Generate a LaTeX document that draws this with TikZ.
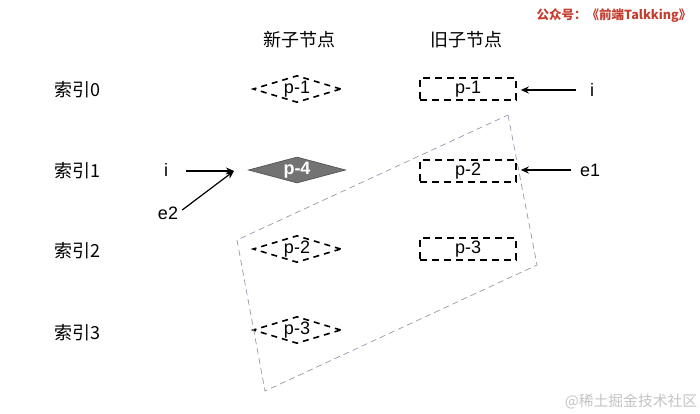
\documentclass[tikz,border=0pt]{standalone}
\usepackage{fontspec}
\setmainfont{Liberation Sans}
\newfontfamily\cjk{Noto Sans CJK SC}
\usetikzlibrary{shapes.geometric,arrows.meta,calc}
\definecolor{wmred}{RGB}{196,62,48}
\definecolor{wmgray}{RGB}{195,195,195}
\definecolor{boxline}{RGB}{150,150,172}
\tikzset{
  x=1pt,y=-1pt,
  lbl/.style={font=\fontsize{18}{18}\selectfont, inner sep=0pt},
  cjklbl/.style={font=\cjk\fontsize{18}{18}\selectfont, inner sep=0pt},
  newnode/.style={diamond, draw=black, line width=1.6pt, dash pattern=on 6pt off 5pt,
     minimum width=88pt, minimum height=27pt, inner sep=0pt, aspect=3.3,
     font=\fontsize{18}{18}\selectfont},
  oldnode/.style={rectangle, draw=black, line width=1.6pt, dash pattern=on 7pt off 5pt,
     minimum width=96pt, minimum height=22pt, inner sep=0pt,
     font=\fontsize{18}{18}\selectfont},
  newp/.style={diamond, draw=black!65, fill=black!55, line width=0.8pt,
     minimum width=97pt, minimum height=26pt, inner sep=0pt, aspect=3.7,
     text=white, font=\bfseries\fontsize{18}{18}\selectfont},
  ptr/.style={draw=black, line width=1.2pt, -{Stealth[length=8pt,width=7pt]}},
  region/.style={draw=boxline, line width=0.7pt, dash pattern=on 6pt off 4pt},
}
\begin{document}
\begin{tikzpicture}
\useasboundingbox (0,0) rectangle (700,414);
% headers
\node[cjklbl] (hnew) at (299,40) {新子节点};
\node[cjklbl] (hold) at (466,40) {旧子节点};
% index labels
\node[cjklbl] (r0) at (77,90) {索引0};
\node[cjklbl] (r1) at (77,171) {索引1};
\node[cjklbl] (r2) at (77,251) {索引2};
\node[cjklbl] (r3) at (77,333) {索引3};
% new nodes
\node[newnode] (n1) at (297,89) {p-1};
\node[newp] (n4) at (297,170) {p-4};
\node[newnode] (n2) at (297,249) {p-2};
\node[newnode] (n3) at (297,330) {p-3};
% old nodes
\node[oldnode] (o1) at (468,89) {p-1};
\node[oldnode] (o2) at (468,171) {p-2};
\node[oldnode] (o3) at (468,249) {p-3};
% pointer labels
\node[lbl] (iold) at (592,90) {i};
\node[lbl] (e1) at (590,170) {e1};
\node[lbl] (inew) at (166,170) {i};
\node[lbl] (e2) at (168,213) {e2};
\coordinate (tipnew) at (234,171);
\draw[ptr, shorten <=14pt, shorten >=4pt] (iold.west) -- (iold.west -| o1.east);
\draw[ptr, shorten <=9pt, shorten >=4pt] (e1.west) -- (e1.west -| o2.east);
\draw[ptr, shorten <=18pt] (inew.east |- tipnew) -- (tipnew);
\draw[ptr, shorten <=5pt] (e2.east) -- (tipnew);
% region
\coordinate (c1) at (508,115);
\coordinate (c2) at (537,265);
\coordinate (c3) at (265,391);
\coordinate (c4) at (237,240);
\draw[region] (c1) -- (c2) -- (c3) -- (c4) -- cycle;
% watermarks
\node[font=\cjk\bfseries\fontsize{12.5}{12.5}\selectfont, text=wmred, inner sep=0pt] (wm1) at (614,16) {公众号：《前端Talkking》};
\node[font=\cjk\fontsize{14.8}{14.8}\selectfont, text=wmgray, inner sep=0pt] (wm2) at (631,401) {@稀土掘金技术社区};
\end{tikzpicture}
\end{document}
